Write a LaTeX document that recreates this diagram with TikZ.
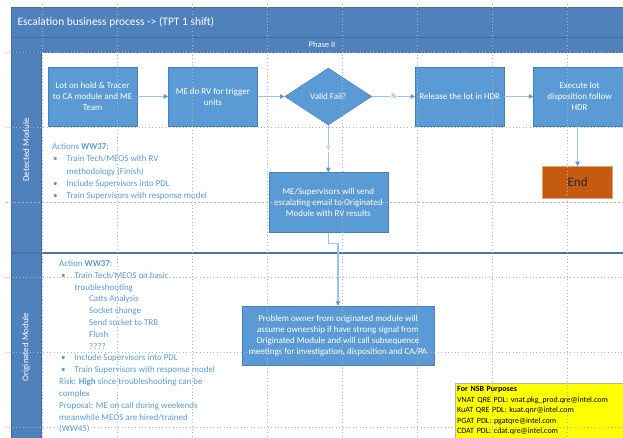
\documentclass[tikz,border=0pt]{standalone}
\usepackage{fontspec}
\setmainfont{Carlito}
\usetikzlibrary{arrows.meta,positioning,shapes.geometric}
\definecolor{HdrBlue}{RGB}{79,129,189}
\definecolor{BoxBlue}{RGB}{91,155,213}
\definecolor{BoxEdge}{RGB}{72,128,182}
\definecolor{FlowBlue}{RGB}{157,195,230}
\definecolor{NoteBlue}{RGB}{91,155,213}
\definecolor{EndOrange}{RGB}{197,90,17}
\definecolor{NoteYellow}{RGB}{255,255,0}
\newcommand{\bul}{\makebox[13.5bp][l]{\textbullet}}
\tikzset{
  procbox/.style={rectangle,fill=BoxBlue,draw=BoxEdge,line width=0.4pt,
                  minimum width=89bp,minimum height=59bp,inner sep=2bp,
                  align=center,text=white,font=\fontsize{9}{11}\selectfont},
  decide/.style={diamond,fill=BoxBlue,draw=BoxEdge,line width=0.4pt,
                 minimum width=87bp,minimum height=57bp,inner sep=0pt,
                 text=white,font=\fontsize{9}{11}\selectfont},
  endbox/.style={rectangle,fill=EndOrange,draw=EndOrange!55!white,line width=0.6pt,
                 minimum width=70bp,minimum height=32bp,
                 text=black!85,font=\fontsize{13}{15}\selectfont},
  flow/.style={-{Triangle[length=4.5bp,width=4.5bp,color=BoxBlue,fill=BoxBlue]},
               FlowBlue,line width=1.2bp},
  flowlbl/.style={fill=white,inner sep=1bp,text=NoteBlue,font=\fontsize{7}{8}\selectfont},
  lanehead/.style={fill=HdrBlue,draw=HdrBlue!85!black,line width=0.4pt},
  lanelbl/.style={rotate=90,text=white,font=\fontsize{9}{11}\selectfont},
  note/.style={anchor=north west,inner sep=0pt,align=left,text=NoteBlue},
  nsb/.style={anchor=north west,fill=NoteYellow,draw=black!30,line width=0.4pt,
              minimum width=168bp,minimum height=55bp,text width=164bp,
              inner xsep=2bp,inner ysep=2bp,
              align=left,font=\fontsize{8}{10.6}\selectfont},
  gridline/.style={dash pattern=on 0.8bp off 2.6bp,gray!60,line width=0.6bp},
  breakline/.style={dash pattern=on 2bp off 2bp,gray!60,line width=0.6bp},
}
\begin{document}
\begin{tikzpicture}[x=1bp,y=-1bp]
  \useasboundingbox (0,0) rectangle (623,438);
  % header bands and lanes
  \fill[white] (0,0) rectangle (623,438);
  \draw[lanehead] (11,7) rectangle (623,37);
  \draw[lanehead] (11,37) rectangle (623,52);
  \draw[lanehead] (11,52) rectangle (41,253);
  \draw[lanehead] (11,253) rectangle (41,438);
  \draw[HdrBlue!90!black,line width=1.2bp] (11,253) -- (623,253);
  \node[anchor=west,text=white,font=\fontsize{11.5}{13}\selectfont] (title) at (14,22)
    {Escalation business process -> (TPT 1 shift)};
  \node[text=white,font=\fontsize{8.5}{10}\selectfont] (phase) at (322,44.5) {Phase II};
  \node[lanelbl] (detlane) at (26,150) {Detected Module};
  \node[lanelbl] (orglane) at (26,347) {Originated Module};

  % process flow
  \node[procbox] (hold) at (92.5,96.5) {Lot on hold \& Tracer\\to CA module and ME\\Team};
  \node[procbox,right=31bp of hold] (rv) {ME do RV for trigger\\units};
  \node[decide,right=27bp of rv] (valid) {Valid Fail?};
  \node[procbox,right=43bp of valid] (release) {Release the lot in HDR};
  \node[procbox,minimum width=92bp,right=29bp of release] (execute)
    {Execute lot\\disposition follow\\HDR};
  \node[endbox,below=40bp of execute,xshift=-2bp] (end) {End};
  \node[procbox,minimum width=119bp,minimum height=60bp,below=47bp of valid] (mail)
    {ME/Supervisors will send\\escalating email to Originated\\Module with RV results};
  \node[procbox,minimum width=192bp] (owner) at (338,335.5)
    {Problem owner from originated module will\\assume ownership if have strong signal from\\Originated Module and will call subsequence\\meetings for investigation, disposition and CA/PA};

  \draw[flow] (hold) -- (rv);
  \draw[flow] (rv) -- (valid);
  \draw[flow] (valid) -- node[flowlbl] {N} (release);
  \draw[flow] (release) -- (execute);
  \draw[flow] (execute.south -| end.north) -- (end.north);
  \draw[flow] (valid) -- node[flowlbl] {Y} (mail);
  \draw[flow] (mail.south) -- ++(0,11) -| (owner.north);

  % action notes
  \node[note,font=\fontsize{9}{12.4}\selectfont] (detnote) at (52,143) {%
    Actions \textbf{WW37}:\\
    \hspace*{1bp}\bul Train Tech/MEOS with RV\\
    \hspace*{14.5bp}methodology (Finish)\\
    \hspace*{1bp}\bul Include Supervisors into PDL\\
    \hspace*{1bp}\bul Train Supervisors with response model};
  \node[note,font=\fontsize{9}{11.86}\selectfont] (orgnote) at (59,260) {%
    Action \textbf{WW37}:\\
    \hspace*{2bp}\bul Train Tech/MEOS on basic\\
    \hspace*{15.5bp}troubleshooting\\
    \hspace*{30bp}Catts Analysis\\
    \hspace*{30bp}Socket change\\
    \hspace*{30bp}Send socket to TRB\\
    \hspace*{30bp}Flush\\
    \hspace*{30bp}????\\
    \hspace*{2bp}\bul Include Supervisors into PDL\\
    \hspace*{2bp}\bul Train Supervisors with response model\\
    Risk: \textbf{High} since troubleshooting can be\\
    complex\\
    Proposal: ME on call during weekends\\
    meanwhile MEOS are hired/trained\\
    (WW45)};
  \node[nsb] (nsbnote) at (455,383) {%
    \textbf{For NSB Purposes}\\
    VNAT QRE PDL: vnat.pkg\_prod.qre@intel.com\\
    KuAT QRE PDL: kuat.qnr@intel.com\\
    PGAT PDL: pgatqre@intel.com\\
    CDAT PDL: cdat.qre@intel.com};

  % page grid
  \foreach \gx in {42,117,...,567}
    \draw[gridline] (\gx,4) -- (\gx,438);
  \foreach \gy in {52,127,277,352,427}
    \draw[gridline] (6,\gy) -- (623,\gy);
  \draw[breakline] (6,202) -- (623,202);
\end{tikzpicture}
\end{document}
